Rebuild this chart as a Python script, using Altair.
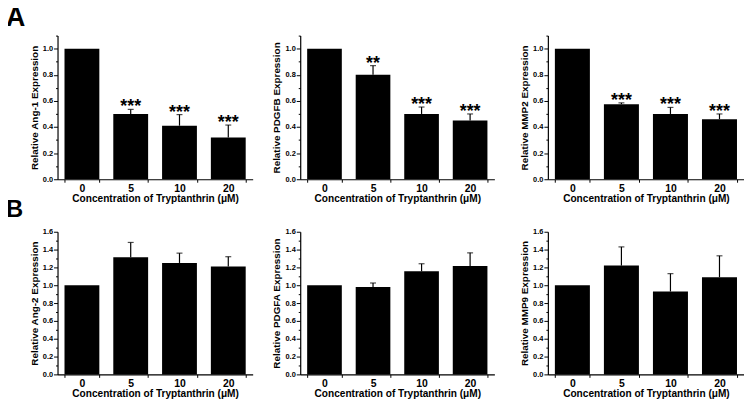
import altair as alt
import pandas as pd

doses = ["0", "5", "10", "20"]

ang1 = [1.0, 0.50, 0.41, 0.32]
ang1_err = [0.0, 0.035, 0.085, 0.095]
ang1_sig = ["", "***", "***", "***"]

pdgfb = [1.0, 0.80, 0.50, 0.45]
pdgfb_err = [0.0, 0.07, 0.053, 0.05]
pdgfb_sig = ["", "**", "***", "***"]

mmp2 = [1.0, 0.575, 0.50, 0.46]
mmp2_err = [0.0, 0.01, 0.05, 0.04]
mmp2_sig = ["", "***", "***", "***"]

ang2 = [1.0, 1.315, 1.25, 1.21]
ang2_err = [0.0, 0.165, 0.11, 0.11]
ang2_sig = ["", "", "", ""]

pdgfa = [1.0, 0.98, 1.156, 1.215]
pdgfa_err = [0.0, 0.045, 0.085, 0.148]
pdgfa_sig = ["", "", "", ""]

mmp9 = [1.0, 1.22, 0.93, 1.09]
mmp9_err = [0.0, 0.21, 0.20, 0.24]
mmp9_sig = ["", "", "", ""]

ticks_a = [0.0, 0.1, 0.2, 0.3, 0.4, 0.5, 0.6, 0.7, 0.8, 0.9, 1.0, 1.1]
ticks_b = [0.0, 0.1, 0.2, 0.3, 0.4, 0.5, 0.6, 0.7, 0.8, 0.9, 1.0, 1.1,
           1.2, 1.3, 1.4, 1.5, 1.6]

panel_letters = ["A", "B"]

XTITLE = "Concentration of Tryptanthrin (μM)"
FONT = "Liberation Sans"


def panel(vals, errs, sigs, ytitle, ymax, ticks, w, h, letters=()):
    df = pd.DataFrame({"dose": doses, "v": vals, "e": errs, "s": sigs})
    df["top"] = df["v"] + df["e"]
    base = alt.Chart(df)
    x = alt.X(
        "dose:N", sort=doses,
        scale=alt.Scale(paddingInner=0.286, paddingOuter=0.143),
        axis=alt.Axis(title=XTITLE, labelAngle=0, tickBand="extent",
                      tickSize=3, tickColor="black", tickWidth=1,
                      domainColor="black", domainWidth=1.2,
                      labelFont=FONT, labelFontSize=10.5, labelFontWeight="bold",
                      labelColor="black", labelPadding=1,
                      titleFont=FONT, titleFontSize=10.2, titleFontWeight="bold",
                      titleColor="black", titlePadding=0),
    )
    yscale = alt.Scale(domain=[0, ymax], nice=False, zero=True)
    yaxis = alt.Axis(values=ticks, grid=False,
                     labelExpr="round(datum.value*10) % 2 == 0 ? format(datum.value, '.1f') : ''",
                     labelOverlap=False, labelFlush=False,
                     tickSize={"condition": {"test": "round(datum.value*10) % 2 == 0", "value": 4}, "value": 2},
                     tickColor="black", tickWidth=1,
                     domainColor="black", domainWidth=1.2,
                     labelFont=FONT, labelFontSize=7.5, labelFontWeight="bold",
                     labelColor="black", labelPadding=1,
                     titleFont=FONT, titleFontSize=10, titleFontWeight="bold",
                     titleColor="black", titlePadding=3)
    bars = base.mark_bar(color="black").encode(
        x=x, y=alt.Y("v:Q", scale=yscale, title=ytitle, axis=yaxis))
    err = base.transform_filter("datum.e > 0")
    rule = err.mark_rule(color="black", strokeWidth=1.2).encode(
        x=x, y=alt.Y("v:Q", scale=yscale, title=ytitle, axis=yaxis), y2="top:Q")
    cap = err.mark_tick(color="black", size=6, thickness=1.2).encode(
        x=x, y=alt.Y("top:Q", scale=yscale, title=ytitle, axis=yaxis))
    stars = base.mark_text(font=FONT, fontSize=18, fontWeight="bold",
                           baseline="alphabetic", dy=3, color="black").encode(
        x=x, y=alt.Y("top:Q", scale=yscale, title=ytitle, axis=yaxis), text="s:N")
    layers = [bars, rule, cap, stars]
    for letter, size, ly in letters:
        lt = alt.Chart(pd.DataFrame({"t": [letter]})).mark_text(
            font=FONT, fontSize=size, fontWeight="bold", align="left",
            baseline="alphabetic", color="black").encode(
            x=alt.value(-52), y=alt.value(ly), text="t:N")
        layers.append(lt)
    return alt.layer(*layers).properties(width=w, height=h)


a1 = panel(ang1, ang1_err, ang1_sig, "Relative Ang-1 Expression", 1.1, ticks_a, 197, 145,
           letters=[(panel_letters[0], 27, -10), (panel_letters[1], 24, 183)])
a2 = panel(pdgfb, pdgfb_err, pdgfb_sig, "Relative PDGFB Expression", 1.1, ticks_a, 196, 145)
a3 = panel(mmp2, mmp2_err, mmp2_sig, "Relative MMP2 Expression", 1.1, ticks_a, 198, 145)
b1 = panel(ang2, ang2_err, ang2_sig, "Relative Ang-2 Expression", 1.6, ticks_b, 197, 144)
b2 = panel(pdgfa, pdgfa_err, pdgfa_sig, "Relative PDGFA Expression", 1.6, ticks_b, 196, 144)
b3 = panel(mmp9, mmp9_err, mmp9_sig, "Relative MMP9 Expression", 1.6, ticks_b, 198, 144)

row_a = alt.hconcat(alt.hconcat(a1, a2, spacing=19), a3, spacing=25)
row_b = alt.hconcat(alt.hconcat(b1, b2, spacing=19), b3, spacing=25)

chart = alt.vconcat(row_a, row_b, spacing=6).properties(
    padding={"left": -2, "top": -6, "right": 0, "bottom": 0}
).configure_view(stroke=None)

chart.save("out.html", embed_options={"renderer": "svg", "actions": False})
